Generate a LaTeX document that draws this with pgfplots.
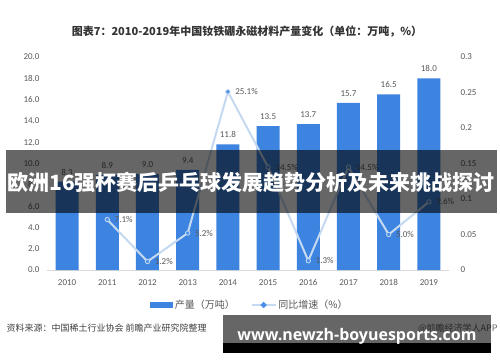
\documentclass[border=0pt]{standalone}
\usepackage{pgfplots}
\pgfplotsset{compat=1.18}
\usepackage{fontspec}
\setmainfont{Carlito}
\newfontfamily\cjk{Noto Sans CJK SC}
\newfontfamily\opensans{Open Sans}
\definecolor{barblue}{RGB}{60,132,224}
\definecolor{lineblue}{RGB}{197,217,241}
\definecolor{dotblue}{RGB}{74,143,232}
\definecolor{txtgray}{RGB}{89,89,89}
\definecolor{axgray}{RGB}{217,217,217}
\begin{document}
\begin{tikzpicture}[x=1pt,y=1pt]
\useasboundingbox (0,0) rectangle (500,362);
\fill[white] (0,0) rectangle (500,362);
\node[font=\cjk\bfseries\fontsize{11}{13}\selectfont, text=black!80] at (247,330) {图表7：2010-2019年中国钕铁硼永磁材料产量变化（单位：万吨，\%）};
\begin{axis}[
  at={(47pt,92pt)}, anchor=south west, scale only axis,
  width=402pt, height=213pt,
  ybar, bar width=23pt,
  xmin=-0.5, xmax=9.5, ymin=0, ymax=20,
  xtick={0,...,9},
  xticklabels={2010,2011,2012,2013,2014,2015,2016,2017,2018,2019},
  ytick={0,2,4,6,8,10,12,14,16,18,20},
  axis x line*=bottom, axis y line*=left,
  y axis line style={draw=none},
  x axis line style={axgray, line width=0.8pt},
  major tick length=0pt,
  tick label style={font=\fontsize{9}{10}\selectfont, text=txtgray},
  xticklabel style={yshift=-6pt},
  yticklabel style={xshift=-4pt, /pgf/number format/.cd, fixed, fixed zerofill, precision=1, assume math mode=true},
  nodes near coords,
  every node near coord/.append style={font=\fontsize{9}{10}\selectfont, text=txtgray, anchor=center, yshift=9.5pt,
    /pgf/number format/fixed, /pgf/number format/fixed zerofill, /pgf/number format/precision=1, /pgf/number format/assume math mode=true},
]
\addplot[fill=barblue, draw=none] coordinates {
(0,8.3) (1,8.9) (2,9.0) (3,9.4) (4,11.8) (5,13.5) (6,13.7) (7,15.7) (8,16.5) (9,18.0)};
\end{axis}
\begin{axis}[
  at={(47pt,92pt)}, anchor=south west, scale only axis,
  width=402pt, height=213pt,
  xmin=-0.5, xmax=9.5, ymin=0, ymax=0.3,
  axis y line*=right, axis x line=none,
  y axis line style={draw=none},
  major tick length=0pt,
  ytick={0,0.05,0.1,0.15,0.2,0.25,0.3},
  yticklabels={0,0.05,0.1,0.15,0.2,0.25,0.3},
  yticklabel style={font=\fontsize{9}{10}\selectfont, text=txtgray, xshift=8pt},
  legend style={at={(0.505,-0.164)}, anchor=center, draw=none, fill=none,
    font=\cjk\fontsize{10}{12}\selectfont, text=txtgray, legend columns=2,
    /tikz/every even column/.append style={column sep=14pt}},
]
\addlegendimage{legend image code/.code={\fill[barblue] (0pt,-2.5pt) rectangle (22pt,2.5pt);}}
\addlegendentry{产量（万吨）}
\addplot[lineblue, line width=2pt, mark=*, mark size=2.2pt,
  mark options={fill=dotblue, draw=lineblue, line width=0.8pt},
  nodes near coords, point meta=explicit symbolic,
  every node near coord/.append style={anchor=west, xshift=6pt, inner sep=1pt, font=\fontsize{9}{10}\selectfont, text=txtgray},
  legend image code/.code={\draw[lineblue, line width=1.5pt] (0pt,0pt) -- (24pt,0pt); \fill[dotblue] (12pt,0pt) circle (1.8pt);}
] coordinates {
(1,0.071) [7.1\%]
(2,0.012) [1.2\%]
(3,0.052) [5.2\%]
(4,0.251) [25.1\%]
(5,0.145) [14.5\%]
(6,0.013) [1.3\%]
(7,0.145) [14.5\%]
(8,0.050) [5.0\%]
(9,0.096) [9.6\%]
};
\addlegendentry{同比增速（\%）}
\end{axis}
\fill[black, opacity=0.6] (6,149) rectangle (497,212);
\node[font=\cjk\bfseries\fontsize{21}{23}\selectfont, text=white] at (251,180) {欧洲16强杯赛后乒乓球发展趋势分析及未来挑战探讨};
\node[anchor=west, font=\cjk\fontsize{9}{10}\selectfont, text=black!75] at (3,34) {资料来源：中国稀土行业协会 前瞻产业研究院整理};
\node[anchor=east, font=\cjk\fontsize{9}{10}\selectfont, text=black!60] at (501,34) {@前瞻经济学人APP};
\fill[black, opacity=0.6] (223,19) rectangle (491,47);
\fill[black] (223,9) rectangle (491,19);
\node[font=\opensans\bfseries\fontsize{16}{18}\selectfont, text=white] at (357,26) {www.newzh-boyuesports.com};
\end{tikzpicture}
\end{document}
